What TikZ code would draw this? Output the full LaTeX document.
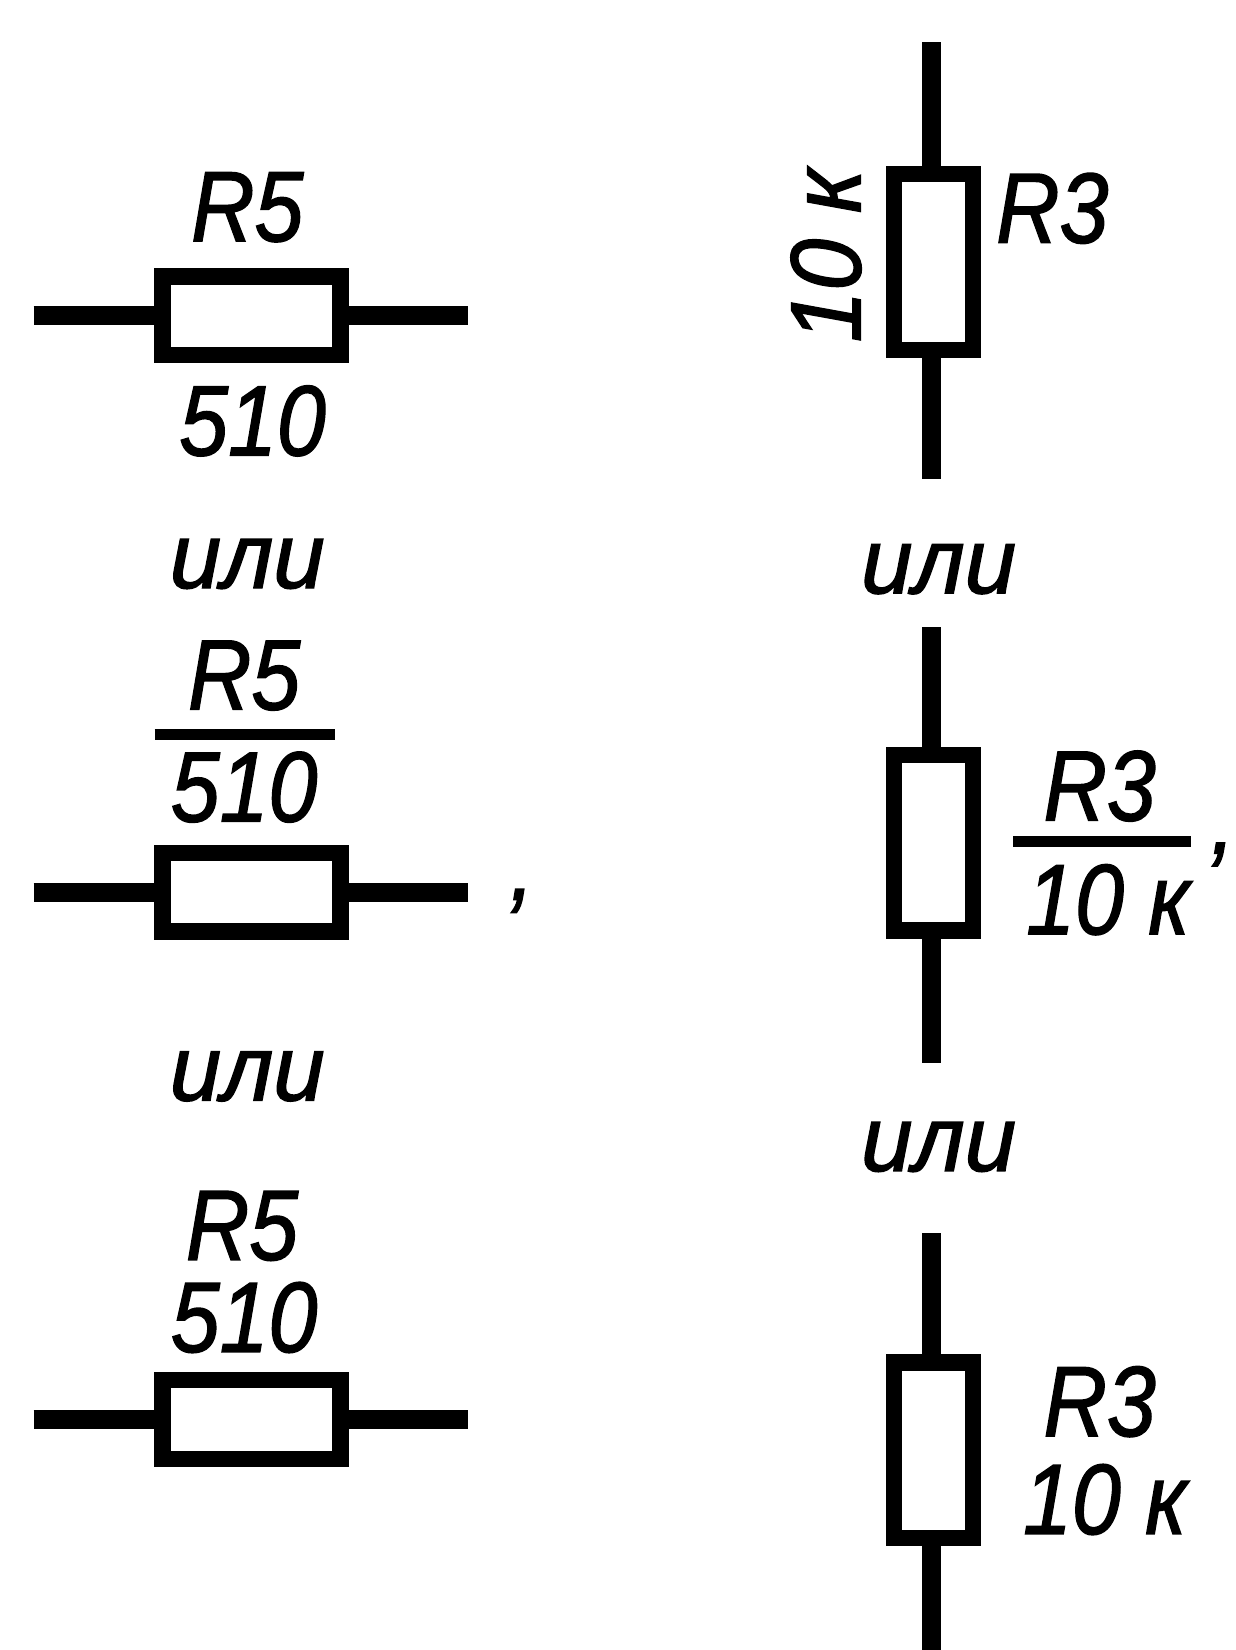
\documentclass[tikz,border=0pt]{standalone}
\usepackage{fontspec}
\setmainfont{Liberation Sans}[ItalicFeatures={FakeBold=1.5}]
\usetikzlibrary{positioning}
\tikzset{
  hres/.style={draw, line width=9pt, minimum width=3.38cm, minimum height=1.5cm, inner sep=0pt},
  vres/.style={draw, line width=9pt, minimum width=1.5cm, minimum height=3.34cm, inner sep=0pt},
  lead/.style={line width=10.2pt},
  fracbar/.style={line width=6pt},
  lbl/.style={font=\fontsize{54}{54}\selectfont\itshape, inner sep=0pt, xscale=0.88},
  orword/.style={font=\fontsize{50}{50}\selectfont\itshape, inner sep=0pt}
}
\begin{document}
\begin{tikzpicture}[x=0.02cm, y=-0.02cm]
  \useasboundingbox (0,0) rectangle (1174,1568);

  % Horizontal resistors
  \foreach \i/\y in {1/300, 2/848, 3/1349} {
    \node[hres] (hr\i) at (239,\y) {};
    \coordinate (hl\i) at (32,\y);
    \coordinate (hr\i end) at (445,\y);
    \draw[lead] (hl\i) -- (hr\i.west);
    \draw[lead] (hr\i.east) -- (hr\i end);
  }

  % Vertical resistors
  \foreach \i/\y/\a/\b in {1/249/40/455, 2/801/596/1010, 3/1378/1172/1568} {
    \node[vres] (vr\i) at (887,\y) {};
    \coordinate (vt\i) at (885,\a);
    \coordinate (vb\i) at (885,\b);
    \draw[lead] (vt\i) -- (vr\i.north -| vt\i);
    \draw[lead] (vr\i.south -| vb\i) -- (vb\i);
  }

  % Labels, left column
  \node[lbl] (ra) at (235,197) {R5};
  \node[lbl] (va) at (240,400) {510};
  \node[lbl] (rb) at (232,642) {R5};
  \node[lbl] (vb) at (232,748) {510};
  \node[lbl] (rc) at (230,1165) {R5};
  \node[lbl] (vc) at (232,1252) {510};

  % Labels, right column
  \node[lbl] (rd) at (1000,198) {R3};
  \node[rotate=90, lbl, xscale=1.06] (vd) at (785,243) {10 к};
  \node[lbl] (re) at (1045,747) {R3};
  \node[lbl] (ve) at (1053,855) {10 к};
  \node[lbl] (rf) at (1045,1332) {R3};
  \node[lbl] (vf) at (1050,1425) {10 к};

  % Fraction bars
  \coordinate (ba) at (147,698);
  \coordinate (bb) at (318,698);
  \coordinate (bc) at (963,800);
  \coordinate (bd) at (1132,800);
  \draw[fracbar] (ba) -- (bb);
  \draw[fracbar] (bc) -- (bd);

  % Commas
  \node[lbl] (ca) at (496,856) {,};
  \node[lbl] (cb) at (1162,812) {,};

  % Words between variants
  \node[orword] (ora) at (235,536) {или};
  \node[orword] (orb) at (892,541) {или};
  \node[orword] (orc) at (235,1023) {или};
  \node[orword] (ord) at (892,1090) {или};
\end{tikzpicture}
\end{document}
